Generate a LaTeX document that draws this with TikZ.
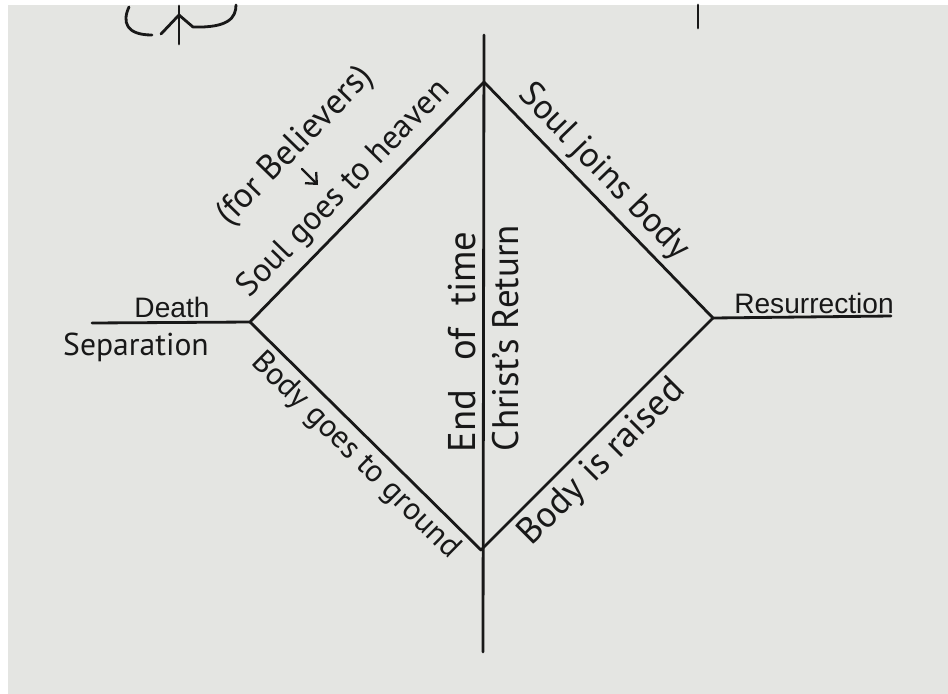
\documentclass[tikz,border=0pt]{standalone}
\usepackage{fontspec}
\setmainfont{PT Sans}
\newfontfamily\printfont{Liberation Sans}
\usetikzlibrary{arrows.meta}
\definecolor{paper}{RGB}{228,229,226}
\definecolor{ink}{RGB}{24,24,24}
\tikzset{pen/.style={draw=ink, line width=1.6pt, line cap=round, line join=round},
 hand/.style={font=\fontsize{#1}{#1}\selectfont, text=ink, inner sep=1pt},
 hand/.default=18,
 printed/.style={font=\printfont\fontsize{16}{16}\selectfont, text=ink, inner sep=1pt},
 }

\begin{document}
\begin{tikzpicture}[x=0.02cm, y=-0.02cm]
        \fill [white] (0,0) rectangle (948,694);
        \fill [paper] (8,5) rectangle (948,694);
        \useasboundingbox (0,0) rectangle (948,694);
        \coordinate (top) at (484,82);
        \coordinate (left) at (250,322);
        \coordinate (bottom) at (481,550);
        \coordinate (right) at (713,318);
        \coordinate (axistop) at (484,35);
        \coordinate (axisbot) at (483,652);
        \coordinate (deathend) at (92,323);
        \coordinate (resend) at (891,316);
        \draw [pen] (axistop) -- (axisbot);
        \draw [pen] (deathend) -- (left);
        \draw [pen] (right) -- (resend);
        \draw [pen] (left) -- node [hand=19, sloped, pos=.48, yshift=.5cm] (soulup) {Soul goes to heaven}
            node [hand=20, sloped, pos=.47, yshift=1.8cm] (believers) {(for Believers)} (top);
        \draw [pen] (top) -- node [hand=20, sloped, pos=.45, yshift=.46cm] (souljoin) {Soul joins body} (right);
        \draw [pen] (left) -- node [hand=18, sloped, pos=.52, yshift=-.42cm] (bodydown) {Body goes to ground} (bottom);
        \draw [pen] (bottom) -- node [hand=21, sloped, pos=.45, yshift=-.48cm] (bodyup) {Body is raised} (right);
        \coordinate (arrtail) at (302,169);
        \coordinate (arrhead) at (318,185);
        \draw [pen, line width=1.3pt, -{Straight Barb[length=5pt,width=9pt]}] (arrtail) -- (arrhead);
        \node [hand=22, rotate=90] (endtime) at (462,342) {End\hspace{.5em} of\hspace{.3em} time};
        \node [hand=21, rotate=90] (christ) at (506,338) {Christ's Return};
        \node [printed, anchor=base] (death) at (172,317) {Death};
        \node [printed, anchor=base] (resurrection) at (814,313) {Resurrection};
        \node [hand, anchor=base] (separation) at (136,355) {Separation};
        \draw [pen] (129,7) .. controls (122,22) and (126,35) .. (152,35);
        \draw [pen] (179,44) -- (179,6);
        \draw [pen] (161,34) -- (179,15) -- (193,27) .. controls (228,28) and (236,18) .. (236,5);
        \draw [pen] (698,5) -- (698,28);
    \end{tikzpicture}
\end{document}
